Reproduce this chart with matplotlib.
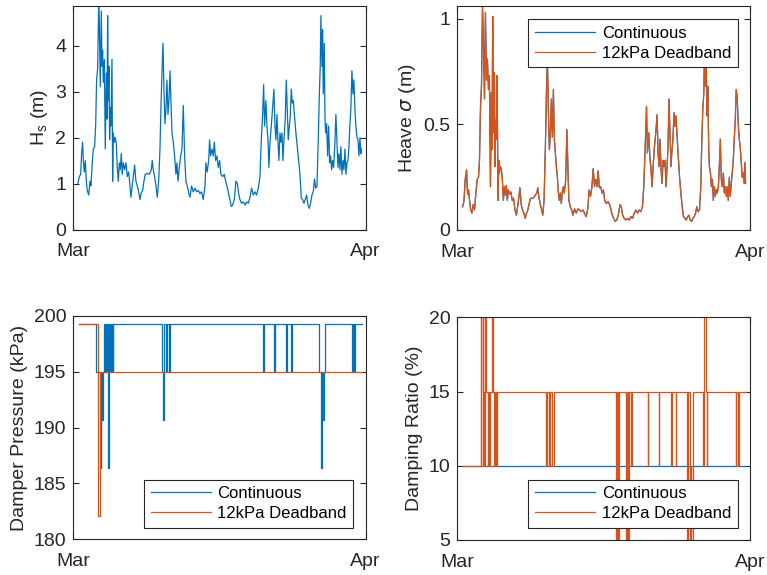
import matplotlib.pyplot as plt

plt.rcParams['font.family'] = ['Liberation Sans', 'DejaVu Sans']
plt.rcParams['mathtext.fontset'] = 'dejavusans'

BLUE = '#0072BD'
ORANGE = '#D95319'
AXC = '#262626'

# --- significant wave height (days since 1 March)
hs_day = [0.49, 0.64, 0.78, 0.88, 0.99, 1.06, 1.17, 1.27, 1.38, 1.48,
          1.63, 1.77, 1.87, 2.01, 2.12, 2.26, 2.37, 2.47, 2.58, 2.69,
          2.76, 2.86, 2.97, 3.04, 3.11, 3.18, 3.29, 3.39, 3.50, 3.57,
          3.64, 3.71, 3.78, 3.85, 3.92, 3.99, 4.10, 4.17, 4.24, 4.35,
          4.45, 4.56, 4.66, 4.77, 4.88, 4.98, 5.09, 5.19, 5.30, 5.44,
          5.58, 5.72, 5.87, 6.01, 6.11, 6.25, 6.40, 6.50, 6.64, 6.78,
          6.93, 7.07, 7.21, 7.35, 7.49, 7.63, 7.84, 8.06, 8.27, 8.37,
          8.48, 8.62, 8.76, 8.90, 9.05, 9.19, 9.29, 9.40, 9.51, 9.61,
          9.72, 9.82, 9.93, 10.04, 10.14, 10.25, 10.35, 10.46, 10.60, 10.74,
          10.88, 10.99, 11.10, 11.24, 11.38, 11.52, 11.66, 11.80, 11.94, 12.08,
          12.23, 12.37, 12.54, 12.72, 12.90, 13.07, 13.25, 13.43, 13.60, 13.78,
          13.96, 14.06, 14.20, 14.35, 14.45, 14.56, 14.70, 14.84, 14.95, 15.09,
          15.23, 15.37, 15.51, 15.65, 15.83, 16.01, 16.15, 16.29, 16.43, 16.57,
          16.75, 16.89, 17.07, 17.24, 17.39, 17.53, 17.67, 17.84, 18.02, 18.20,
          18.37, 18.55, 18.73, 18.90, 19.08, 19.26, 19.43, 19.61, 19.79, 19.93,
          20.07, 20.18, 20.28, 20.42, 20.53, 20.64, 20.74, 20.85, 20.99, 21.13,
          21.27, 21.38, 21.48, 21.59, 21.70, 21.80, 21.91, 22.01, 22.12, 22.23,
          22.33, 22.47, 22.58, 22.69, 22.79, 22.90, 23.00, 23.11, 23.22, 23.32,
          23.46, 23.60, 23.75, 23.89, 24.03, 24.17, 24.31, 24.45, 24.59, 24.73,
          24.88, 25.02, 25.16, 25.30, 25.44, 25.58, 25.69, 25.83, 25.97, 26.08,
          26.18, 26.25, 26.36, 26.43, 26.50, 26.61, 26.68, 26.75, 26.86, 26.96,
          27.07, 27.17, 27.28, 27.39, 27.49, 27.60, 27.74, 27.84, 27.95, 28.06,
          28.16, 28.27, 28.37, 28.48, 28.59, 28.69, 28.80, 28.91, 29.01, 29.12,
          29.22, 29.33, 29.43, 29.54, 29.65, 29.75, 29.86, 29.96, 30.07, 30.18,
          30.28, 30.39, 30.49, 30.57]
hs = [1.0, 1.15, 1.2, 1.65, 1.9, 1.5, 1.25, 1.5, 1.05, 0.85,
      0.75, 1.05, 0.95, 1.45, 1.75, 1.8, 2.25, 3.25, 3.5, 4.88,
      4.5, 3.1, 4.75, 3.55, 3.9, 3.2, 3.7, 1.75, 3.4, 2.4,
      4.65, 2.8, 3.55, 1.95, 2.65, 2.25, 3.7, 1.05, 2.1, 1.9,
      2.0, 1.85, 1.35, 1.05, 1.45, 1.3, 1.65, 1.2, 1.45, 1.3,
      1.45, 1.15, 1.25, 0.95, 0.7, 0.95, 1.2, 1.4, 1.05, 0.95,
      0.82, 0.65, 0.8, 0.85, 1.05, 1.2, 1.22, 1.2, 1.3, 1.5,
      1.3, 1.15, 0.95, 0.7, 1.05, 1.75, 2.65, 3.4, 4.05, 3.05,
      2.3, 2.6, 3.25, 2.5, 2.8, 3.45, 2.8, 2.1, 1.9, 1.6,
      1.2, 1.45, 1.05, 1.35, 1.6, 1.75, 2.7, 1.6, 1.05, 0.95,
      0.8, 0.7, 0.95, 0.82, 0.9, 0.82, 0.85, 0.78, 0.82, 0.65,
      0.95, 1.45, 1.25, 1.5, 1.95, 1.6, 1.75, 1.6, 1.9, 1.5,
      1.6, 1.35, 1.5, 1.2, 1.15, 1.2, 1.05, 0.95, 0.82, 0.68,
      0.5, 0.53, 0.65, 1.05, 1.0, 0.78, 0.65, 0.57, 0.6, 0.53,
      0.6, 0.57, 0.7, 0.9, 0.75, 0.82, 0.75, 0.9, 1.15, 1.95,
      2.5, 3.15, 2.25, 2.8, 2.25, 1.95, 1.35, 1.9, 2.25, 2.65,
      3.05, 2.25, 1.95, 2.5, 1.9, 1.5, 2.1, 1.9, 2.1, 1.5,
      1.95, 2.4, 3.25, 2.6, 1.95, 2.25, 2.45, 3.05, 2.75, 2.8,
      2.45, 2.1, 1.8, 1.5, 1.2, 0.68, 0.65, 0.57, 0.65, 0.75,
      0.53, 0.46, 0.57, 0.75, 0.82, 1.1, 0.9, 0.93, 1.95, 2.9,
      3.55, 4.65, 3.55, 4.35, 2.95, 4.05, 2.45, 2.1, 2.3, 1.6,
      2.25, 1.45, 1.6, 1.3, 1.5, 1.35, 1.9, 2.5, 1.95, 1.35,
      1.65, 1.3, 1.8, 1.2, 1.5, 1.3, 1.75, 1.2, 1.45, 1.5,
      1.8, 2.3, 2.65, 3.45, 2.95, 3.25, 2.6, 2.25, 2.0, 1.95,
      1.6, 2.0, 1.65, 1.75]

# --- heave standard deviation
heave_day = [0.56, 0.70, 0.84, 0.98, 1.09, 1.19, 1.30, 1.40, 1.54, 1.68,
             1.82, 1.96, 2.11, 2.25, 2.35, 2.46, 2.56, 2.67, 2.77, 2.88,
             2.98, 3.09, 3.19, 3.30, 3.40, 3.51, 3.61, 3.68, 3.75, 3.82,
             3.93, 4.00, 4.07, 4.14, 4.21, 4.32, 4.39, 4.46, 4.56, 4.67,
             4.77, 4.88, 4.98, 5.09, 5.19, 5.30, 5.40, 5.54, 5.68, 5.82,
             5.96, 6.11, 6.25, 6.39, 6.53, 6.63, 6.77, 6.91, 7.05, 7.19,
             7.33, 7.47, 7.61, 7.75, 8.00, 8.21, 8.42, 8.53, 8.63, 8.77,
             8.91, 9.05, 9.19, 9.33, 9.44, 9.54, 9.65, 9.75, 9.86, 9.96,
             10.07, 10.18, 10.28, 10.39, 10.49, 10.60, 10.70, 10.81, 10.91, 11.02,
             11.12, 11.23, 11.33, 11.47, 11.61, 11.72, 11.82, 11.96, 12.11, 12.25,
             12.42, 12.60, 12.77, 12.95, 13.12, 13.30, 13.47, 13.65, 13.82, 13.96,
             14.11, 14.25, 14.39, 14.53, 14.67, 14.81, 14.91, 15.05, 15.19, 15.33,
             15.47, 15.61, 15.79, 15.96, 16.14, 16.28, 16.42, 16.56, 16.74, 16.88,
             17.05, 17.23, 17.37, 17.51, 17.68, 17.86, 18.04, 18.21, 18.39, 18.56,
             18.74, 18.91, 19.09, 19.26, 19.44, 19.61, 19.75, 19.89, 20.04, 20.14,
             20.28, 20.39, 20.49, 20.63, 20.74, 20.88, 21.02, 21.16, 21.26, 21.37,
             21.47, 21.58, 21.68, 21.79, 21.89, 22.00, 22.11, 22.21, 22.32, 22.42,
             22.53, 22.63, 22.74, 22.84, 22.95, 23.05, 23.16, 23.26, 23.40, 23.54,
             23.68, 23.82, 23.96, 24.11, 24.25, 24.39, 24.53, 24.67, 24.81, 24.95,
             25.09, 25.23, 25.37, 25.51, 25.65, 25.79, 25.89, 26.00, 26.11, 26.18,
             26.28, 26.35, 26.46, 26.53, 26.63, 26.70, 26.81, 26.91, 27.02, 27.12,
             27.23, 27.33, 27.44, 27.54, 27.65, 27.75, 27.86, 27.96, 28.07, 28.18,
             28.28, 28.39, 28.49, 28.60, 28.70, 28.81, 28.91, 29.02, 29.12, 29.23,
             29.33, 29.44, 29.54, 29.65, 29.75, 29.86, 29.96, 30.07, 30.18, 30.28,
             30.39, 30.46, 30.53]
heave_deadband = [0.11, 0.135, 0.24, 0.285, 0.17, 0.19, 0.14, 0.10, 0.08, 0.12,
                  0.095, 0.17, 0.24, 0.25, 0.33, 0.585, 0.68, 1.06, 0.885, 0.62,
                  1.03, 0.71, 0.81, 0.665, 0.73, 0.205, 0.65, 0.38, 1.01, 0.46,
                  0.745, 0.30, 0.52, 0.43, 0.73, 0.14, 0.33, 0.27, 0.30, 0.285,
                  0.24, 0.14, 0.205, 0.165, 0.21, 0.14, 0.19, 0.17, 0.18, 0.14,
                  0.15, 0.095, 0.07, 0.11, 0.16, 0.20, 0.12, 0.095, 0.08, 0.055,
                  0.08, 0.095, 0.125, 0.15, 0.15, 0.16, 0.175, 0.20, 0.16, 0.125,
                  0.10, 0.07, 0.14, 0.395, 0.65, 0.82, 0.555, 0.38, 0.46, 0.62,
                  0.44, 0.665, 0.43, 0.365, 0.30, 0.25, 0.18, 0.14, 0.175, 0.125,
                  0.18, 0.205, 0.175, 0.23, 0.475, 0.285, 0.14, 0.11, 0.095, 0.07,
                  0.10, 0.08, 0.10, 0.095, 0.087, 0.095, 0.08, 0.063, 0.10, 0.19,
                  0.16, 0.20, 0.29, 0.205, 0.24, 0.205, 0.28, 0.20, 0.205, 0.175,
                  0.19, 0.14, 0.125, 0.135, 0.12, 0.095, 0.07, 0.055, 0.04, 0.047,
                  0.07, 0.12, 0.11, 0.07, 0.055, 0.047, 0.055, 0.047, 0.063, 0.055,
                  0.08, 0.095, 0.08, 0.095, 0.087, 0.11, 0.205, 0.38, 0.585, 0.365,
                  0.46, 0.35, 0.30, 0.205, 0.30, 0.395, 0.46, 0.545, 0.365, 0.30,
                  0.43, 0.285, 0.22, 0.33, 0.30, 0.33, 0.205, 0.30, 0.395, 0.62,
                  0.46, 0.30, 0.38, 0.43, 0.555, 0.49, 0.54, 0.46, 0.35, 0.25,
                  0.175, 0.11, 0.063, 0.055, 0.047, 0.063, 0.07, 0.047, 0.04, 0.055,
                  0.063, 0.08, 0.11, 0.087, 0.095, 0.205, 0.41, 0.57, 0.65, 0.855,
                  0.68, 0.81, 0.54, 0.68, 0.38, 0.30, 0.27, 0.205, 0.24, 0.14,
                  0.205, 0.16, 0.19, 0.175, 0.205, 0.30, 0.43, 0.24, 0.205, 0.27,
                  0.175, 0.205, 0.16, 0.205, 0.14, 0.25, 0.16, 0.22, 0.27, 0.33,
                  0.43, 0.52, 0.665, 0.62, 0.505, 0.43, 0.395, 0.32, 0.25, 0.27,
                  0.22, 0.32, 0.22]
heave_continuous = heave_deadband  # indistinguishable at this scale

# --- damper pressure (step changes)
p_cont_day = [0.60, 2.44, 2.90, 2.97, 3.08, 3.12, 3.29, 3.36, 3.43, 3.50,
              3.57, 3.64, 3.68, 3.74, 3.78, 3.85, 3.92, 4.03, 4.10, 4.17,
              4.24, 9.37, 9.51, 9.58, 9.65, 9.86, 9.96, 10.14, 10.25, 20.14,
              20.21, 21.27, 21.41, 22.58, 22.69, 23.11, 23.22, 26.08, 26.25, 26.36,
              26.50, 26.57, 26.64, 29.54, 29.61, 29.72, 29.82, 30.57]
p_cont = [199.3, 195, 186.4, 195, 190.7, 195, 199.3, 195, 199.3, 195,
          199.3, 195, 186.4, 195, 199.3, 195, 199.3, 195, 199.3, 195,
          199.3, 195, 190.7, 195, 199.3, 195, 199.3, 195, 199.3, 195,
          199.3, 195, 199.3, 195, 199.3, 195, 199.3, 195, 186.4, 195,
          190.7, 195, 199.3, 195, 199.3, 195, 199.3, 199.3]
p_db_day = [0.60, 2.66, 2.80, 30.57]
p_db = [199.3, 182.1, 195, 195]

# --- damping ratio (step changes)
z_cont_day = [0.63, 30.53]
z_cont = [10, 10]
z_db_day = [0.63, 2.46, 2.56, 2.67, 2.74, 2.84, 2.91, 2.98, 3.05, 3.23,
            3.30, 3.40, 3.47, 3.68, 3.75, 3.86, 3.96, 4.07, 4.18, 9.40,
            9.51, 9.72, 9.79, 10.04, 10.21, 16.77, 16.91, 16.98, 17.12, 17.84,
            17.96, 18.07, 18.18, 18.39, 18.49, 20.18, 20.25, 21.33, 21.40, 22.63,
            22.70, 23.12, 23.19, 24.32, 24.42, 24.60, 24.70, 24.77, 24.95, 25.97,
            26.08, 26.18, 26.32, 26.42, 26.49, 29.47, 29.54, 29.75, 29.82, 30.53]
z_db = [10, 20, 10, 20, 15, 10, 15, 20, 15, 10,
        15, 10, 15, 20, 15, 10, 15, 10, 15, 10,
        15, 10, 15, 10, 15, 5, 15, 5, 15, 5,
        15, 5, 15, 10, 15, 10, 15, 10, 15, 10,
        15, 10, 15, 5, 15, 5, 10, 5, 15, 10,
        15, 20, 15, 10, 15, 10, 15, 10, 15, 15]

labels = ['Continuous', '12kPa Deadband']

fig = plt.figure(figsize=(7.67, 5.75), dpi=100)
W, H = 767, 575


def make_ax(x0, x1, y0, y1):
    ax = fig.add_axes([x0 / W, 1 - y1 / H, (x1 - x0) / W, (y1 - y0) / H])
    for s in ax.spines.values():
        s.set_color(AXC)
        s.set_linewidth(0.8)
    ax.tick_params(direction='in', top=True, right=True, length=4, width=0.8,
                   colors=AXC, labelsize=14, pad=5)
    ax.tick_params(axis='x', pad=10)
    ax.set_xlim(0, 31)
    ax.set_xticks([0, 31])
    ax.set_xticklabels(['Mar', 'Apr'])
    return ax


def add_legend(ax, loc, anchor):
    leg = ax.legend(labels, loc=loc, bbox_to_anchor=anchor, fontsize=12,
                    handlelength=3.6, handletextpad=0.4, borderpad=0.4,
                    labelspacing=0.3, borderaxespad=0, fancybox=False,
                    framealpha=1, edgecolor=AXC)
    leg.get_frame().set_linewidth(0.8)


ax1 = make_ax(73.3, 365.7, 6, 229.5)
ax1.plot(hs_day, hs, color=BLUE, lw=0.9)
ax1.set_ylim(0, 4.86)
ax1.set_yticks([0, 1, 2, 3, 4])
ax1.set_ylabel(r'H$_\mathregular{s}$ (m)', fontsize=14, color=AXC)

ax2 = make_ax(457.3, 750, 6, 230)
ax2.plot(heave_day, heave_continuous, color=BLUE, lw=0.9)
ax2.plot(heave_day, heave_deadband, color=ORANGE, lw=0.9)
ax2.set_ylim(0, 1.06)
ax2.set_yticks([0, 0.5, 1])
ax2.set_yticklabels(['0', '0.5', '1'])
ax2.set_ylabel(r'Heave $\sigma$ (m)', fontsize=14, color=AXC)
add_legend(ax2, 'upper right', (0.958, 0.942))

ax3 = make_ax(73.3, 365.7, 316, 539.3)
ax3.plot(p_cont_day, p_cont, color=BLUE, lw=0.9, drawstyle='steps-post')
ax3.plot(p_db_day, p_db, color=ORANGE, lw=0.9, drawstyle='steps-post')
ax3.set_ylim(180, 200)
ax3.set_yticks([180, 185, 190, 195, 200])
ax3.set_ylabel('Damper Pressure (kPa)', fontsize=14, color=AXC)
add_legend(ax3, 'lower right', (0.958, 0.051))

ax4 = make_ax(457.3, 750, 317.3, 540)
ax4.plot(z_cont_day, z_cont, color=BLUE, lw=0.9, drawstyle='steps-post')
ax4.plot(z_db_day, z_db, color=ORANGE, lw=0.9, drawstyle='steps-post')
ax4.set_ylim(5, 20)
ax4.set_yticks([5, 10, 15, 20])
ax4.set_ylabel('Damping Ratio (%)', fontsize=14, color=AXC)
add_legend(ax4, 'lower right', (0.958, 0.054))

fig.savefig('out.png', dpi=100)
